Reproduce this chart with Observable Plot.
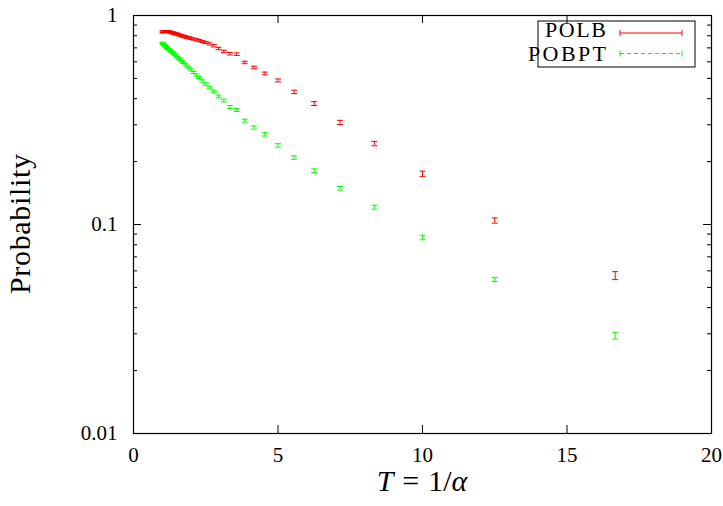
<!DOCTYPE html>
<html><head><meta charset="utf-8">
<script src="https://cdn.jsdelivr.net/npm/d3@7"></script>
<script src="https://cdn.jsdelivr.net/npm/@observablehq/plot@0.6"></script>
<style>html,body{margin:0;padding:0;background:#fff} svg{display:block}</style>
</head><body><div id="chart"></div>
<script>
// T = 1/alpha values
const T = [1.000, 1.020, 1.042, 1.064, 1.087, 1.111, 1.136, 1.163, 1.190, 1.220,
  1.250, 1.282, 1.316, 1.351, 1.389, 1.429, 1.471, 1.515, 1.563, 1.613,
  1.667, 1.724, 1.786, 1.852, 1.923, 2.000, 2.083, 2.174, 2.273, 2.381,
  2.500, 2.632, 2.778, 2.941, 3.125, 3.333, 3.571, 3.846, 4.167, 4.545,
  5.000, 5.556, 6.250, 7.143, 8.333, 10.000, 12.500, 16.667];
const polb = [0.834, 0.836, 0.838, 0.838, 0.838, 0.838, 0.838, 0.838, 0.838, 0.836,
  0.834, 0.831, 0.829, 0.826, 0.824, 0.820, 0.817, 0.814, 0.809, 0.805,
  0.800, 0.795, 0.791, 0.786, 0.782, 0.777, 0.771, 0.765, 0.759, 0.751,
  0.743, 0.731, 0.716, 0.695, 0.673, 0.656, 0.653, 0.596, 0.564, 0.528,
  0.489, 0.431, 0.379, 0.308, 0.244, 0.175, 0.1045, 0.057];
const polbErr = [0.009, 0.009, 0.009, 0.009, 0.009, 0.009, 0.009, 0.009, 0.009, 0.009,
  0.009, 0.009, 0.009, 0.009, 0.009, 0.009, 0.009, 0.009, 0.009, 0.009,
  0.009, 0.009, 0.009, 0.009, 0.009, 0.009, 0.009, 0.009, 0.009, 0.009,
  0.009, 0.009, 0.009, 0.009, 0.009, 0.009, 0.009, 0.008, 0.008, 0.008,
  0.008, 0.008, 0.008, 0.007, 0.006, 0.005, 0.003, 0.0025];
const pobpt = [0.739, 0.733, 0.727, 0.722, 0.716, 0.711, 0.705, 0.700, 0.694, 0.689,
  0.684, 0.678, 0.672, 0.665, 0.658, 0.649, 0.641, 0.632, 0.623, 0.614,
  0.604, 0.595, 0.585, 0.573, 0.561, 0.549, 0.534, 0.519, 0.505, 0.486,
  0.470, 0.452, 0.433, 0.410, 0.392, 0.365, 0.353, 0.314, 0.291, 0.270,
  0.239, 0.209, 0.181, 0.149, 0.121, 0.0867, 0.0545, 0.0294];
const pobptErr = [0.006, 0.006, 0.006, 0.006, 0.006, 0.006, 0.006, 0.006, 0.006, 0.006,
  0.006, 0.006, 0.006, 0.006, 0.006, 0.006, 0.006, 0.006, 0.006, 0.006,
  0.006, 0.006, 0.006, 0.006, 0.006, 0.006, 0.006, 0.006, 0.006, 0.006,
  0.006, 0.006, 0.006, 0.006, 0.006, 0.006, 0.006, 0.005, 0.005, 0.005,
  0.0045, 0.004, 0.0035, 0.003, 0.0026, 0.0022, 0.0012, 0.0011];
const seriesNames = ["POLB", "POBPT"];
const seriesColors = ["#ff0000", "#00ff00"];
const xTicks = [0, 5, 10, 15, 20];
const yMajor = [0.01, 0.1, 1];
const yMinor = [0.02, 0.03, 0.04, 0.05, 0.06, 0.07, 0.08, 0.09,
  0.2, 0.3, 0.4, 0.5, 0.6, 0.7, 0.8, 0.9];
const xLabel = ["T", "=", "1/", "α"];
const yLabel = "Probability";

const W = 723, H = 506, mL = 133, mR = 12, mT = 15, mB = 73;
const pw = W - mL - mR, ph = H - mT - mB;
const font = "'Liberation Serif', 'DejaVu Serif', serif";

function rows(vals, errs, name) {
  return T.map((t, i) => ({T: t, p: vals[i], lo: vals[i] - errs[i], hi: vals[i] + errs[i], series: name}));
}
const red = rows(polb, polbErr, seriesNames[0]);
const green = rows(pobpt, pobptErr, seriesNames[1]);

const cap = {draw(ctx, size) { const r = Math.sqrt(size / Math.PI); ctx.moveTo(-r, 0); ctx.lineTo(r, 0); }};

function errMarks(data, color) {
  return [
    Plot.ruleX(data, {x: "T", y1: "lo", y2: "hi", stroke: color, strokeWidth: 1}),
    Plot.dot(data, {x: "T", y: "lo", symbol: cap, r: 3, stroke: color, fill: "none", strokeWidth: 1}),
    Plot.dot(data, {x: "T", y: "hi", symbol: cap, r: 3, stroke: color, fill: "none", strokeWidth: 1})
  ];
}
const inner = xTicks.slice(1, -1);
const yInnerMajor = yMajor.slice(1, -1);

const svg = Plot.plot({
  width: W, height: H,
  marginLeft: mL, marginRight: mR, marginTop: mT, marginBottom: mB,
  style: {fontFamily: font, background: "#fff", color: "#000"},
  x: {domain: [0, 20]},
  y: {type: "log", domain: [0.01, 1]},
  marks: [
    ...errMarks(red, seriesColors[0]),
    ...errMarks(green, seriesColors[1]),
    Plot.ruleX(inner, {x: d => d, insetTop: ph - 8, stroke: "#000"}),
    Plot.ruleX(inner, {x: d => d, insetBottom: ph - 8, stroke: "#000"}),
    Plot.ruleY(yMinor, {y: d => d, insetRight: pw - 4, stroke: "#000"}),
    Plot.ruleY(yMinor, {y: d => d, insetLeft: pw - 4, stroke: "#000"}),
    Plot.ruleY(yInnerMajor, {y: d => d, insetRight: pw - 8, stroke: "#000"}),
    Plot.ruleY(yInnerMajor, {y: d => d, insetLeft: pw - 8, stroke: "#000"}),
    Plot.frame({stroke: "#000", strokeWidth: 1.2}),
    Plot.axisX({ticks: xTicks, tickSize: 0, tickPadding: 14, fontSize: 21, tickFormat: d => String(d), label: null}),
    Plot.axisY({ticks: yMajor, tickSize: 0, tickPadding: 16, fontSize: 21, tickFormat: d => String(d), label: null})
  ]
});
document.getElementById("chart").appendChild(svg);

const s = d3.select(svg);
// x axis label
const xl = s.append("text").attr("x", mL + pw / 2).attr("y", 491)
  .attr("text-anchor", "middle").attr("font-size", 30).attr("font-family", font).attr("fill", "#000");
xl.append("tspan").attr("font-style", "italic").text(xLabel[0]);
xl.append("tspan").attr("dx", 9).text(xLabel[1]);
xl.append("tspan").attr("dx", 9).text(xLabel[2]);
xl.append("tspan").attr("font-style", "italic").text(xLabel[3]);
// y axis label
s.append("text").attr("transform", `translate(30,${mT + ph / 2}) rotate(-90)`)
  .attr("text-anchor", "middle").attr("font-size", 30).attr("font-family", font).attr("fill", "#000")
  .attr("textLength", 140).attr("lengthAdjust", "spacing")
  .text(yLabel);
// legend
const lg = s.append("g");
lg.append("rect").attr("x", 538).attr("y", 21).attr("width", 157).attr("height", 46)
  .attr("fill", "none").attr("stroke", "#000").attr("stroke-width", 1);
const textY = [37, 61];
const lineY = [33, 53.5];
const textW = [61, 78];
seriesNames.forEach((name, i) => {
  lg.append("text").attr("x", 606).attr("y", textY[i]).attr("text-anchor", "end")
    .attr("font-size", 22).attr("font-family", font).attr("fill", "#000")
    .attr("textLength", textW[i]).attr("lengthAdjust", "spacing").text(name);
  lg.append("line").attr("x1", 620).attr("x2", 682).attr("y1", lineY[i]).attr("y2", lineY[i])
    .attr("stroke", seriesColors[i]).attr("stroke-width", 1)
    .attr("stroke-dasharray", i === 1 ? "4,3" : null);
  [620, 682].forEach(x => lg.append("line").attr("x1", x).attr("x2", x)
    .attr("y1", lineY[i] - 3).attr("y2", lineY[i] + 3).attr("stroke", seriesColors[i]).attr("stroke-width", 1));
});
</script>
</body></html>
